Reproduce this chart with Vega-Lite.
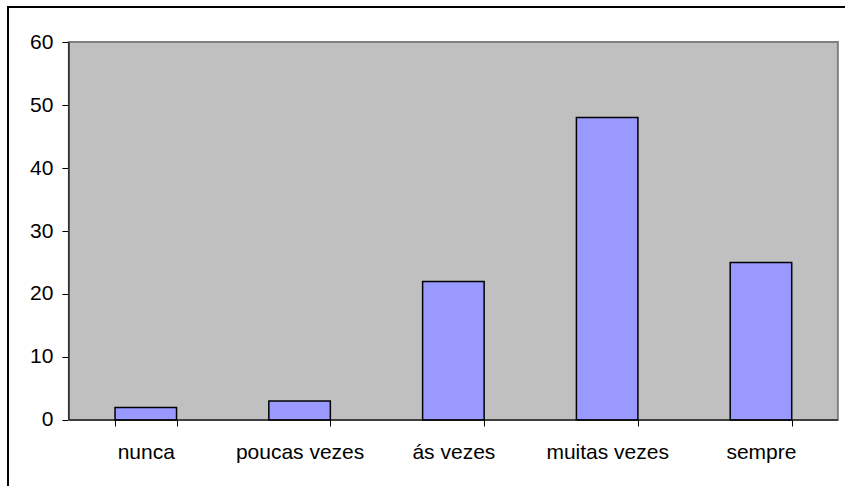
{
  "$schema": "https://vega.github.io/schema/vega-lite/v6.json",
  "width": 839,
  "height": 481,
  "autosize": {"type": "none"},
  "padding": {"left": 8, "top": 7, "right": -2, "bottom": -2},
  "background": "white",
  "config": {
    "view": {"stroke": "black", "strokeWidth": 2, "fill": "white"},
    "axisX": {"title": null, "orient": "bottom", "offset": -68, "domain": false, "labelAngle": 0, "tickBand": "extent", "tickColor": "black", "tickSize": 6, "tickWidth": 1, "labelPadding": 15, "labelFontSize": 21, "labelFont": "Liberation Sans", "labelColor": "black", "grid": false},
    "axisY": {"title": null, "orient": "left", "offset": -60.86, "domain": false, "grid": false, "tickColor": "black", "tickSize": 7, "tickWidth": 1, "labelPadding": 9, "labelFontSize": 21, "labelFont": "Liberation Sans", "labelColor": "black"}
  },
  "layer": [
    {
      "data": {"values": [{}]},
      "mark": {"type": "rect", "fill": "#C0C0C0", "stroke": "#808080", "strokeWidth": 2},
      "encoding": {
        "x": {"datum": "nunca", "type": "nominal", "bandPosition": -0.75, "axis": {"title": null}},
        "x2": {"datum": "sempre", "bandPosition": 1.75},
        "y": {"datum": 0, "type": "quantitative", "axis": {"title": null, "values": [0, 10, 20, 30, 40, 50, 60]}},
        "y2": {"datum": 60}
      }
    },
    {
      "data": {"values": [
        {"categoria": "nunca", "valor": 2},
        {"categoria": "poucas vezes", "valor": 3},
        {"categoria": "ás vezes", "valor": 22},
        {"categoria": "muitas vezes", "valor": 48},
        {"categoria": "sempre", "valor": 25}
      ]},
      "mark": {"type": "bar", "color": "#9999FF", "stroke": "black", "strokeWidth": 1.5},
      "encoding": {
        "x": {
          "field": "categoria", "type": "nominal", "sort": null,
          "scale": {"domain": ["nunca", "poucas vezes", "ás vezes", "muitas vezes", "sempre"], "paddingInner": 0.6, "paddingOuter": 0.5277, "align": 0.6594, "round": false},
          "axis": {"title": null}
        },
        "y": {
          "field": "valor", "type": "quantitative",
          "scale": {"domain": [-10.794, 65.556], "nice": false, "zero": false},
          "axis": {"title": null, "values": [0, 10, 20, 30, 40, 50, 60]}
        },
        "y2": {"datum": 0}
      }
    },
    {
      "data": {"values": [{}]},
      "mark": {"type": "rule", "color": "black", "strokeWidth": 1},
      "encoding": {
        "x": {"datum": "nunca", "type": "nominal", "bandPosition": -0.75, "axis": {"title": null}},
        "y": {"datum": 0, "type": "quantitative", "axis": {"title": null, "values": [0, 10, 20, 30, 40, 50, 60]}},
        "y2": {"datum": 60}
      }
    },
    {
      "data": {"values": [{}]},
      "mark": {"type": "rule", "color": "black", "strokeWidth": 1},
      "encoding": {
        "x": {"datum": "nunca", "type": "nominal", "bandPosition": -0.75, "axis": {"title": null}},
        "x2": {"datum": "sempre", "bandPosition": 1.75},
        "y": {"datum": 0, "type": "quantitative", "axis": {"title": null, "values": [0, 10, 20, 30, 40, 50, 60]}}
      }
    }
  ]
}
